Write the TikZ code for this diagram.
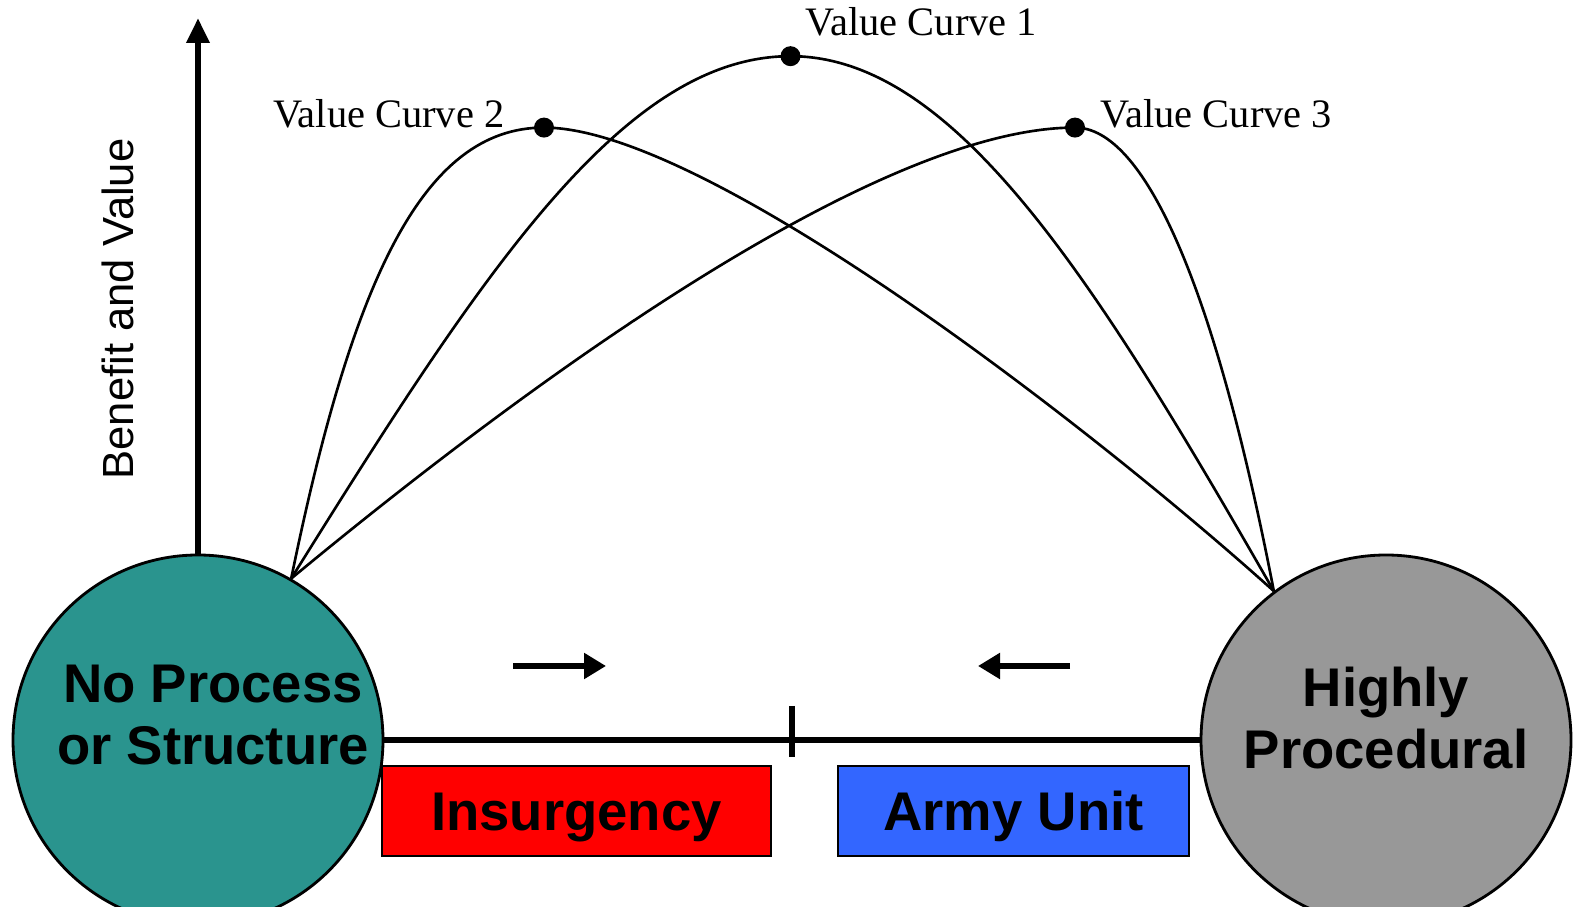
\documentclass[tikz,border=0pt]{standalone}
\usepackage{fontspec}
\setmainfont{Liberation Sans}
\newfontfamily\curvefont{Liberation Serif}
\usetikzlibrary{arrows.meta}

\definecolor{tealfill}{RGB}{42,148,142}
\definecolor{grayfill}{RGB}{152,152,152}
\definecolor{insred}{RGB}{255,0,0}
\definecolor{armyblue}{RGB}{51,102,255}

\begin{document}
\begin{tikzpicture}[
    endpoint/.style={circle, draw, line width=0.8pt, minimum size=3.7cm, inner sep=0pt},
    endtext/.style={align=center, font=\fontsize{15.5}{17.7}\selectfont\bfseries},
    side/.style={draw, line width=0.8pt, minimum height=0.9cm, inner sep=0pt,
                 text height=0.5cm, text depth=0.1cm,
                 font=\fontsize{15.5}{17.7}\selectfont\bfseries},
    axis/.style={line width=1.8pt},
    curve/.style={line width=0.75pt},
    peak/.style={circle, fill=black, minimum size=0.2cm, inner sep=0pt},
    curvelabel/.style={inner sep=0pt, font=\curvefont\fontsize{11.5}{13}\selectfont},
    push/.style={-{Triangle[length=0.22cm,width=0.25cm]}, line width=1.5pt}
]
\useasboundingbox (0,0) rectangle (15.77,9.07);

% the two ends of the scale
\node[endpoint, fill=tealfill] (nps) at (1.98,1.67) {};
\node[endpoint, fill=grayfill] (hp) at (13.86,1.67) {};
\node[endtext] (npslabel) at (2.13,1.92) {No Process\\or Structure};
\node[endtext] (hplabel) at (13.86,1.89) {Highly\\Procedural};

% scale line with its middle mark
\draw[axis] (nps.east) -- (hp.west);
\coordinate (mid) at (7.92,1.67);
\draw[line width=1.5pt] ([yshift=0.34cm]mid) -- ([yshift=-0.17cm]mid);

% value axis
\coordinate (ytip) at (1.98,8.89);
\draw[axis, -{Triangle[length=0.25cm,width=0.22cm]}] (nps.north) -- (ytip);
\node[rotate=90, font=\fontsize{12.4}{14}\selectfont] (ylabel) at (1.18,5.98) {Benefit and Value};

% the two organisations
\node[side, fill=insred, minimum width=3.89cm] (ins) at (5.765,0.96) {Insurgency};
\node[side, fill=armyblue, minimum width=3.51cm] (army) at (10.135,0.96) {Army Unit};

% they move towards each other
\coordinate (insa) at (5.13,2.41);
\coordinate (insb) at (6.06,2.41);
\coordinate (armya) at (10.70,2.41);
\coordinate (armyb) at (9.78,2.41);
\draw[push] (insa) -- (insb);
\draw[push] (armya) -- (armyb);

% peaks of the value curves
\node[peak] (vc1) at (7.905,8.508) {};
\node[peak] (vc2) at (5.44,7.794) {};
\node[peak] (vc3) at (10.75,7.794) {};
\node[curvelabel, anchor=west] (vc1label) at (8.05,8.85) {Value Curve 1};
\node[curvelabel, anchor=east] (vc2label) at (5.05,7.935) {Value Curve 2};
\node[curvelabel, anchor=west] (vc3label) at (11.00,7.935) {Value Curve 3};

% Value Curve 1 (middle)
\draw[curve] (nps.60) .. controls (4.827,6.356) and (6.235,8.508) .. (vc1.center)
    .. controls (9.554,8.508) and (10.962,6.255) .. (hp.127);
% Value Curve 2 (early peak)
\draw[curve] (nps.60) .. controls (3.52,6.255) and (4.224,7.794) .. (vc2.center)
    .. controls (7.04,7.794) and (10.86,4.847) .. (hp.127);
% Value Curve 3 (late peak)
\draw[curve] (nps.60) .. controls (4.797,4.847) and (8.619,7.794) .. (vc3.center)
    .. controls (11.435,7.794) and (12.139,6.255) .. (hp.127);

\end{tikzpicture}
\end{document}
